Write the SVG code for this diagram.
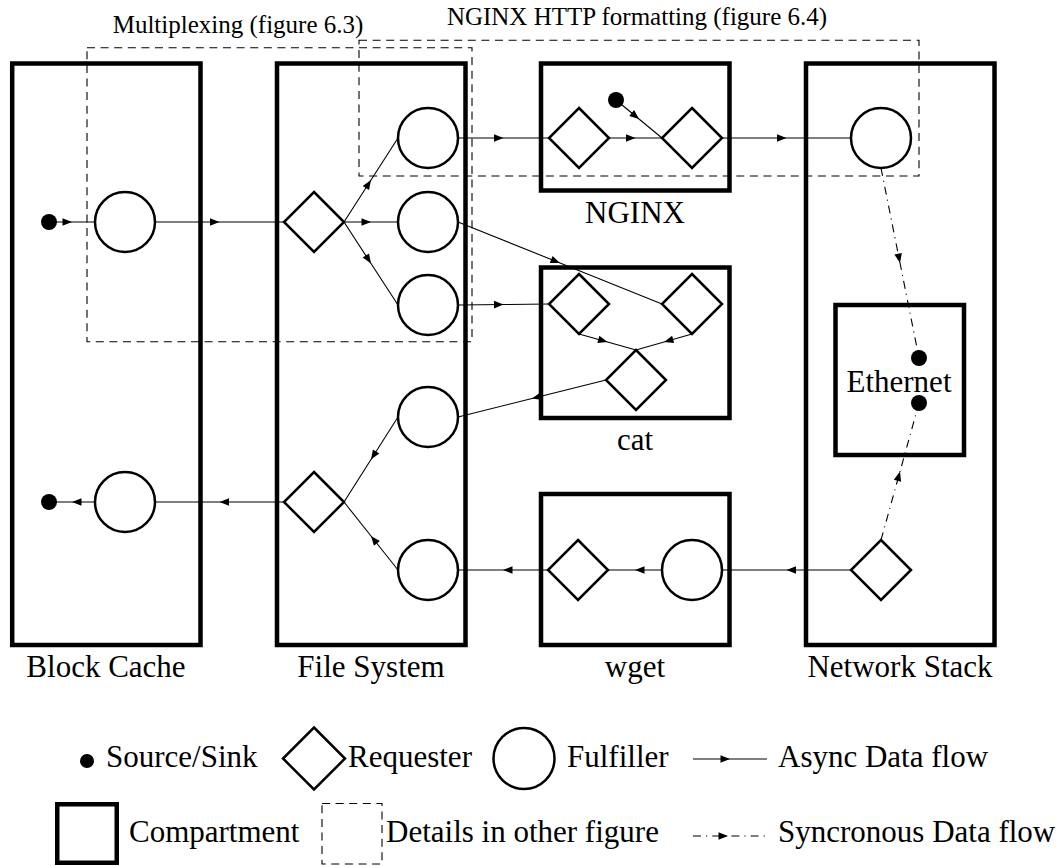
<svg xmlns="http://www.w3.org/2000/svg" width="1058" height="866" viewBox="0 0 1058 866">
<style>
.comp{fill:none;stroke:#000;stroke-width:4.5}
.ful{fill:#fff;stroke:#000;stroke-width:2.5}
.req{fill:#fff;stroke:#000;stroke-width:2.5;stroke-linejoin:miter}
.dot{fill:#000}
.det{fill:none;stroke:#000;stroke-width:1.1;stroke-dasharray:8 5.6}
.async{fill:none;stroke:#000;stroke-width:1.1;marker-mid:url(#arr)}
.sync{fill:none;stroke:#000;stroke-width:1.1;stroke-dasharray:8 5 1.2 5;marker-mid:url(#arr)}
text{font-family:"Liberation Serif","Times New Roman",serif;fill:#000}
.lbl{font-size:31px;text-anchor:middle}
.ttl{font-size:25px;text-anchor:middle}
.leg{font-size:31px}
</style>
<defs>
<marker id="arr" viewBox="-10 -5 11 10" refX="0" refY="0" markerWidth="11" markerHeight="10" markerUnits="userSpaceOnUse" orient="auto">
<path d="M0,0 L-9.5,-3.8 L-9.5,3.8 z" fill="#000" stroke="none"/>
</marker>
</defs>

<g id="details">
<rect id="multiplexing-box" class="det" x="87" y="47.7" width="385" height="294"/>
<text class="ttl" x="238" y="33">Multiplexing (figure 6.3)</text>
<rect id="nginx-http-box" class="det" x="359" y="40.3" width="560" height="135.7"/>
<text class="ttl" x="637" y="25">NGINX HTTP formatting (figure 6.4)</text>
</g>

<g id="compartments">
<g id="block-cache"><rect class="comp" x="12.2" y="63.5" width="188.3" height="581.5"/><text class="lbl" x="106" y="677">Block Cache</text></g>
<g id="file-system"><rect class="comp" x="277" y="63.5" width="188.5" height="581.5"/><text class="lbl" x="371" y="677">File System</text></g>
<g id="nginx"><rect class="comp" x="541" y="63.5" width="188.5" height="127"/><text class="lbl" x="635" y="222.5">NGINX</text></g>
<g id="cat"><rect class="comp" x="541" y="267.5" width="188.5" height="150.5"/><text class="lbl" x="635" y="450">cat</text></g>
<g id="wget"><rect class="comp" x="541" y="494" width="188.5" height="151"/><text class="lbl" x="635" y="677">wget</text></g>
<g id="network-stack"><rect class="comp" x="806" y="63.5" width="188.5" height="581.5"/><text class="lbl" x="900" y="677">Network Stack</text></g>
<g id="ethernet"><rect class="comp" x="835.5" y="305" width="128.5" height="150"/><text class="lbl" x="899" y="392">Ethernet</text></g>
</g>

<g id="connectors">
<polyline class="async" points="49,222 72,222 95,222"/>
<polyline class="async" points="155,222 219.5,222 284,222"/>
<polyline class="async" points="344,222 371,180 398,138"/>
<polyline class="async" points="344,222 371,222 398,222"/>
<polyline class="async" points="344,222 371,263.5 398,305"/>
<polyline class="async" points="458,138 503.5,138 549,138"/>
<polyline class="async" points="609,138 635.5,138 662,138"/>
<polyline class="async" points="616,100 639,119 662,138"/>
<polyline class="async" points="722,138 786.5,138 851,138"/>
<polyline class="sync" points="881,168 900,263 919,358"/>
<polyline class="async" points="458,222 560,263 662,304"/>
<polyline class="async" points="458,305 503.5,304.5 549,304"/>
<polyline class="async" points="579,334 607.5,342 636,350"/>
<polyline class="async" points="692,334 664,342 636,350"/>
<polyline class="async" points="606,380 532,398.5 458,417"/>
<polyline class="async" points="398,417 371,459.5 344,502"/>
<polyline class="async" points="398,570 371,536 344,502"/>
<polyline class="async" points="284,502 219.5,502 155,502"/>
<polyline class="async" points="95,502 72,502 49,502"/>
<polyline class="async" points="548,570 503,570 458,570"/>
<polyline class="async" points="662,570 635,570 608,570"/>
<polyline class="async" points="851,570 786.5,570 722,570"/>
<polyline class="sync" points="881,540 900,471.5 919,403"/>
</g>

<g id="nodes">
<circle id="bc-source" class="dot" cx="49" cy="222" r="8"/>
<circle id="bc-fulfiller-1" class="ful" cx="125" cy="222" r="30"/>
<polygon id="fs-requester-1" class="req" points="314,192 344,222 314,252 284,222"/>
<circle id="fs-fulfiller-1" class="ful" cx="428" cy="138" r="30"/>
<circle id="fs-fulfiller-2" class="ful" cx="428" cy="222" r="30"/>
<circle id="fs-fulfiller-3" class="ful" cx="428" cy="305" r="30"/>
<polygon id="nginx-requester-1" class="req" points="579,108 609,138 579,168 549,138"/>
<circle id="nginx-source" class="dot" cx="616" cy="100" r="8"/>
<polygon id="nginx-requester-2" class="req" points="692,108 722,138 692,168 662,138"/>
<circle id="ns-fulfiller" class="ful" cx="881" cy="138" r="30"/>
<polygon id="cat-requester-1" class="req" points="579,274 609,304 579,334 549,304"/>
<polygon id="cat-requester-2" class="req" points="692,274 722,304 692,334 662,304"/>
<polygon id="cat-requester-3" class="req" points="636,350 666,380 636,410 606,380"/>
<circle id="fs-fulfiller-4" class="ful" cx="428" cy="417" r="30"/>
<circle id="eth-sink" class="dot" cx="919" cy="358" r="8"/>
<circle id="eth-source" class="dot" cx="919" cy="403" r="8"/>
<circle id="bc-sink" class="dot" cx="49" cy="502" r="8"/>
<circle id="bc-fulfiller-2" class="ful" cx="125" cy="502" r="30"/>
<polygon id="fs-requester-2" class="req" points="314,472 344,502 314,532 284,502"/>
<circle id="fs-fulfiller-5" class="ful" cx="428" cy="570" r="30"/>
<polygon id="wget-requester" class="req" points="578,540 608,570 578,600 548,570"/>
<circle id="wget-fulfiller" class="ful" cx="692" cy="570" r="30"/>
<polygon id="ns-requester" class="req" points="881,540 911,570 881,600 851,570"/>
</g>

<g id="legend">
<circle class="dot" cx="87" cy="761" r="7"/>
<text class="leg" x="106" y="767">Source/Sink</text>
<polygon class="req" points="314,727.5 345,758.5 314,789.5 283,758.5"/>
<text class="leg" x="348" y="767">Requester</text>
<circle class="ful" cx="524" cy="758.5" r="30.5"/>
<text class="leg" x="567" y="767">Fulfiller</text>
<polyline class="async" points="693,759 730,759 767,759"/>
<text class="leg" x="778" y="767">Async Data flow</text>
<rect class="comp" x="57.25" y="804.25" width="59.5" height="58.5"/>
<text class="leg" x="129" y="842">Compartment</text>
<rect class="det" x="322" y="803.5" width="60" height="60.5"/>
<text class="leg" x="386" y="842">Details in other figure</text>
<polyline class="sync" points="693,836 728,836 767,836"/>
<text class="leg" x="778" y="842">Syncronous Data flow</text>
</g>
</svg>
